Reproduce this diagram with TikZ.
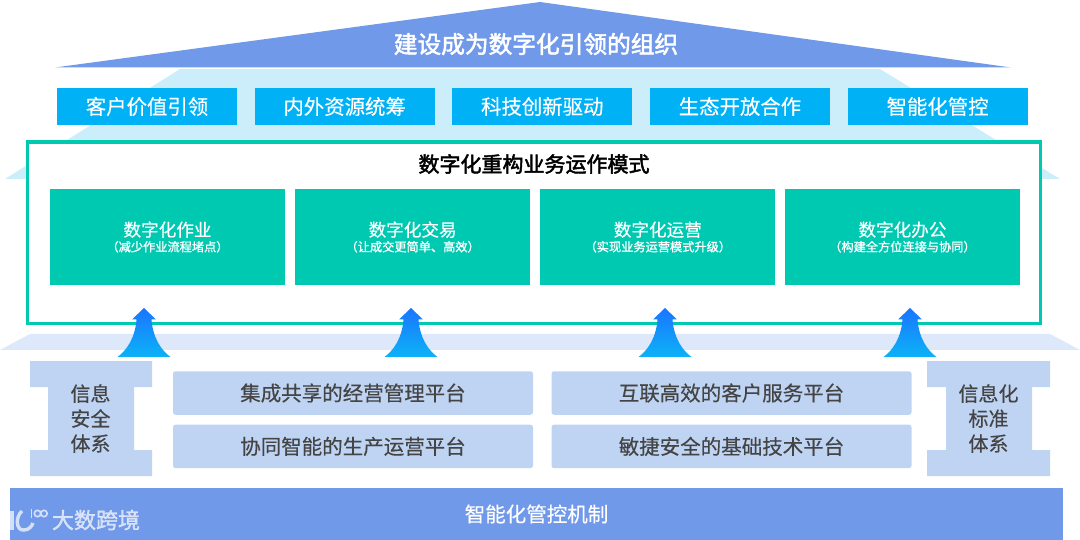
\documentclass[tikz,border=0pt]{standalone}
\usepackage{fontspec}
\setmainfont[FakeBold=0.35]{Noto Sans CJK SC}
\newfontfamily\titlefont[FakeBold=2.2]{Noto Sans CJK SC}
\newfontfamily\subfont[FakeBold=1.2]{Noto Sans CJK SC}
\usepackage{xcolor}
\definecolor{roof}{HTML}{7199E9}
\definecolor{sky}{HTML}{CCEEFA}
\definecolor{pillarblue}{HTML}{00B1F5}
\definecolor{teal}{HTML}{00C9B1}
\definecolor{band}{HTML}{DDE8FA}
\definecolor{platform}{HTML}{BFD4F3}
\definecolor{ink}{HTML}{444444}
\definecolor{riserA}{HTML}{1A75FF}
\definecolor{riserB}{HTML}{0CB2F6}
\usetikzlibrary{positioning}
\tikzset{
    pillar/.style={
        fill=pillarblue, text=white,
        inner sep=0pt,
        minimum width=180pt, minimum height=37pt,
        font=\fontsize{20.4}{24}\selectfont
    },
    mode/.style={
        fill=teal, text=white,
        inner sep=0pt, align=center,
        minimum width=235pt, minimum height=96pt
    },
    plat/.style={
        fill=platform, text=ink, rounded corners=2.5pt,
        inner sep=0pt,
        minimum width=360pt, minimum height=43.5pt,
        font=\fontsize{20.5}{24}\selectfont
    },
    ibeam/.style={
        text=ink, align=center, inner sep=0pt,
        font=\fontsize{20}{25}\selectfont
    },
    ibeamfill/.style={fill=platform},
    riser/.style={top color=riserA, bottom color=riserB, draw=none},
    logoline/.style={draw=white, draw opacity=0.7, line width=3.4pt},
}
\newcommand{\modetext}[2]{{\fontsize{17.6}{20}\selectfont #1}\\[3pt]{\subfont\fontsize{12.2}{14}\selectfont #2}}
\begin{document}
\begin{tikzpicture}[x=1pt, y=-1pt]
            \useasboundingbox (0,0) rectangle (1080,540);
            % Roof and the bands behind it
            \fill[sky] (180,69) -- (880,69) -- (1060,179) -- (5,179) -- cycle;
            \fill[roof] (55,67.5) -- (540,2) -- (1011,67.5) -- cycle;
            \node[text=white, inner sep=0pt, font=\titlefont\fontsize{23.7}{28}\selectfont] (goal) at (536,44) {建设成为数字化引领的组织};

            % Pillars
            \node[pillar] (p1) at (147,106.5) {客户价值引领};
            \node[pillar, right=17.25pt of p1] (p2) {内外资源统筹};
            \node[pillar, right=17.25pt of p2] (p3) {科技创新驱动};
            \node[pillar, right=17.25pt of p3] (p4) {生态开放合作};
            \node[pillar, right=17.25pt of p4] (p5) {智能化管控};

            % Operating modes
            \draw[teal, line width=3.5pt, fill=white] (27.5,142) rectangle (1040.5,323.5);
            \node[inner sep=0pt, font=\titlefont\fontsize{21}{25}\selectfont] (modes) at (534,164) {数字化重构业务运作模式};
            \node[mode] (m1) at (167.5,237) {\modetext{数字化作业}{（减少作业流程堵点）}};
            \node[mode, right=9.75pt of m1] (m2) {\modetext{数字化交易}{（让成交更简单、高效）}};
            \node[mode, right=9.75pt of m2] (m3) {\modetext{数字化运营}{（实现业务运营模式升级）}};
            \node[mode, right=9.25pt of m3] (m4) {\modetext{数字化办公}{（构建全方位连接与协同）}};

            % Band under the frame
            \fill[band] (30,334) -- (1050,334) -- (1080,350) -- (0,350) -- cycle;

            % Rising arrows
            \foreach \ax in {144,411,665,910}
                \path[riser] (\ax,308) -- (\ax+12,319.5) -- (\ax+7.5,319.5)
                    .. controls (\ax+9,338) and (\ax+17,350) .. (\ax+26.5,357)
                    -- (\ax-26.5,357)
                    .. controls (\ax-17,350) and (\ax-9,338) .. (\ax-7.5,319.5)
                    -- (\ax-12,319.5) -- cycle;

            % Side beams
            \fill[ibeamfill] (30,361) -| (152,387) -| (134,450) -| (152,476) -| (30,450) -| (48,387) -| cycle;
            \fill[ibeamfill] (927,361) -| (1050,387) -| (1032,450) -| (1050,476) -| (927,450) -| (946,387) -| cycle;
            \node[ibeam] (sec) at (90.5,418.5) {信息\\安全\\体系};
            \node[ibeam] (std) at (988.5,418.5) {信息化\\标准\\体系};

            % Platforms
            \node[plat] (f1) at (353,393) {集成共享的经营管理平台};
            \node[plat, below=9.5pt of f1] (f2) {协同智能的生产运营平台};
            \node[plat] (f3) at (731.5,393) {互联高效的客户服务平台};
            \node[plat, below=9.5pt of f3] (f4) {敏捷安全的基础技术平台};

            % Base and watermark
            \node[fill=roof, text=white, inner sep=0pt, minimum width=1053pt, minimum height=52pt,
                font=\fontsize{20.5}{24}\selectfont] (base) at (536.5,514) {智能化管控机制};
            \node[text=white, opacity=0.7, inner sep=0pt, font=\subfont\fontsize{22}{26}\selectfont] (wmark) at (96,520) {大数跨境};
            \draw[logoline] (12,511) -- (12,530);
            \draw[logoline] (22,511) .. controls (15,517) and (16,531) .. (24,530) .. controls (29,530) and (32,526) .. (33,523);
            \draw[logoline, line width=1.6pt] (31.5,509) -- (31.5,518);
            \draw[logoline, line width=1.6pt] (37.5,513.5) circle (3.2pt) (44,513.5) circle (3.2pt);
        \end{tikzpicture}
\end{document}
